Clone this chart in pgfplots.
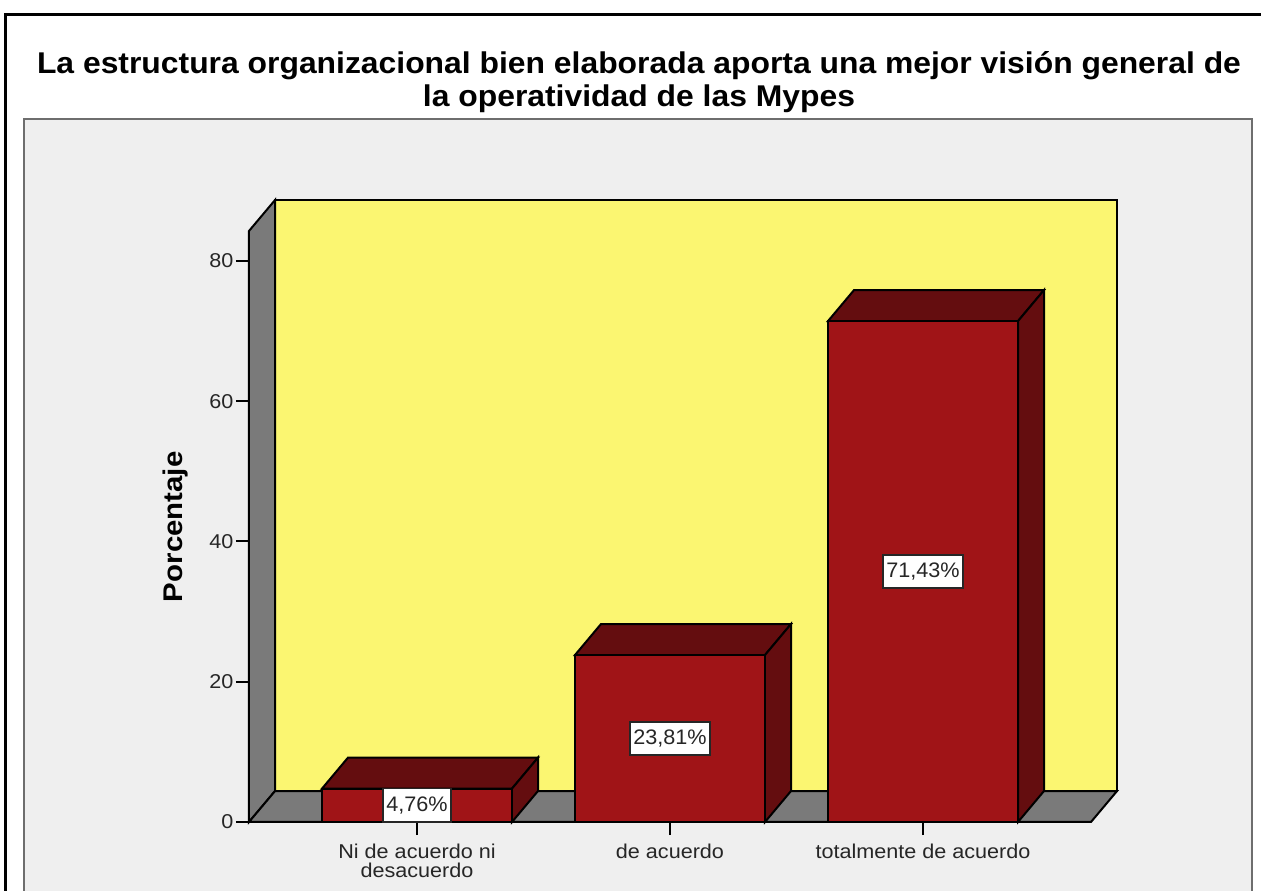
\documentclass[border=0pt]{standalone}
\usepackage{fontspec}
\setmainfont{Liberation Sans}
\newfontfamily\titlefont[FakeStretch=1.062]{Liberation Sans Bold}
\newfontfamily\labelfont[FakeStretch=1.09]{Liberation Sans Bold}
\newfontfamily\tickfont[FakeStretch=1.08]{Liberation Sans}
\newfontfamily\valuefont[FakeStretch=1.03]{Liberation Sans}
\usepackage{pgfplots}
\pgfplotsset{compat=1.18}

\definecolor{panel}{HTML}{EFEFEF}
\definecolor{panelline}{HTML}{6E6E6E}
\definecolor{wallyellow}{HTML}{FBF671}
\definecolor{wallgray}{HTML}{7A7A7A}
\definecolor{barfront}{HTML}{A01417}
\definecolor{bardark}{HTML}{640D0F}

% faces of the 3D look, all in axis units
\pgfplotsset{
  face/.style={draw=black, line width=2pt, line join=miter, fill=#1, mark=none},
}

\begin{document}
\begin{tikzpicture}
% image pixels = pt, origin at the front corner of the axis (249,822)
\useasboundingbox (-249pt,-69pt) rectangle (1012pt,822pt);
\fill[white] (-249pt,-69pt) rectangle (1012pt,822pt);
\draw[black, line width=3pt] (-243pt,-75pt) -- (-243pt,807.5pt) -- (1015pt,807.5pt);
\draw[panelline, fill=panel, line width=2pt] (-225pt,-75pt) -- (-225pt,702.5pt) -- (1003pt,702.5pt) -- (1003pt,-75pt);
\node[align=center, font=\titlefont\fontsize{30}{33}\selectfont, inner sep=0pt, text=black]
  at (390pt,739.5pt) {La estructura organizacional bien elaborada aporta una mejor visión general de\\la operatividad de las Mypes};

\begin{axis}[
  scale only axis,
  x=253pt,
  y=7.0125pt,
  xmin=-0.664,
  xmax=2.664,
  ymin=0,
  ymax=84.28,
  clip=false,
  axis lines*=left,
  axis line style={black, line width=2pt, -},
  xtick={0,1,2},
  xticklabels={Ni de acuerdo ni\\desacuerdo,de acuerdo,totalmente de acuerdo},
  ytick={0,20,40,60,80},
  major tick length=13pt,
  tick style={black, line width=2pt},
  tick align=outside,
  /pgf/number format/assume math mode=true,
  tick label style={font=\tickfont\fontsize{20}{19}\selectfont, text=black!85},
  x tick label style={align=center, yshift=-5pt, anchor=north},
  y tick label style={xshift=1pt},
  ylabel={\labelfont Porcentaje},
  ylabel style={font=\fontsize{27}{30}\selectfont, at={(axis description cs:-0.0873,0.4995)}, anchor=center, rotate=0},
]

% back wall, left wall and floor
\addplot[face=wallyellow] coordinates {(-0.561,4.42) (2.767,4.42) (2.767,88.7) (-0.561,88.7)} --cycle;
\addplot[face=wallgray] coordinates {(-0.664,0) (-0.561,4.42) (-0.561,88.7) (-0.664,84.28)} --cycle;
\addplot[face=wallgray] coordinates {(-0.664,0) (2.664,0) (2.767,4.42) (-0.561,4.42)} --cycle;

% tops of the bars
\addplot[face=bardark] coordinates {(-0.3755,4.76) (0.3755,4.76) (0.4783,9.18) (-0.2727,9.18)} --cycle;
\addplot[face=bardark] coordinates {(0.6245,23.81) (1.3755,23.81) (1.4783,28.23) (0.7273,28.23)} --cycle;
\addplot[face=bardark] coordinates {(1.6245,71.43) (2.3755,71.43) (2.4783,75.85) (1.7273,75.85)} --cycle;

% sides of the bars
\addplot[face=bardark] coordinates {(0.3755,0) (0.4783,4.42) (0.4783,9.18) (0.3755,4.76)} --cycle;
\addplot[face=bardark] coordinates {(1.3755,0) (1.4783,4.42) (1.4783,28.23) (1.3755,23.81)} --cycle;
\addplot[face=bardark] coordinates {(2.3755,0) (2.4783,4.42) (2.4783,75.85) (2.3755,71.43)} --cycle;

% fronts of the bars
\addplot[ybar, bar width=190pt, fill=barfront, draw=black, line width=2pt] coordinates {(0,4.76) (1,23.81) (2,71.43)};

% value labels, centred on the fronts
\addplot[
  only marks, mark=none,
  point meta=explicit symbolic,
  nodes near coords,
  nodes near coords align={center},
  every node near coord/.style={
    anchor=center, fill=white, draw=black!85, line width=1.6pt, text=black!85,
    font=\valuefont\fontsize{21}{22}\selectfont, inner xsep=3.5pt, inner ysep=0pt,
    minimum height=33.5pt,
  },
] coordinates {
  (0,2.38) [4,76\%]
  (1,11.905) [23,81\%]
  (2,35.715) [71,43\%]
};
\end{axis}
\end{tikzpicture}
\end{document}
